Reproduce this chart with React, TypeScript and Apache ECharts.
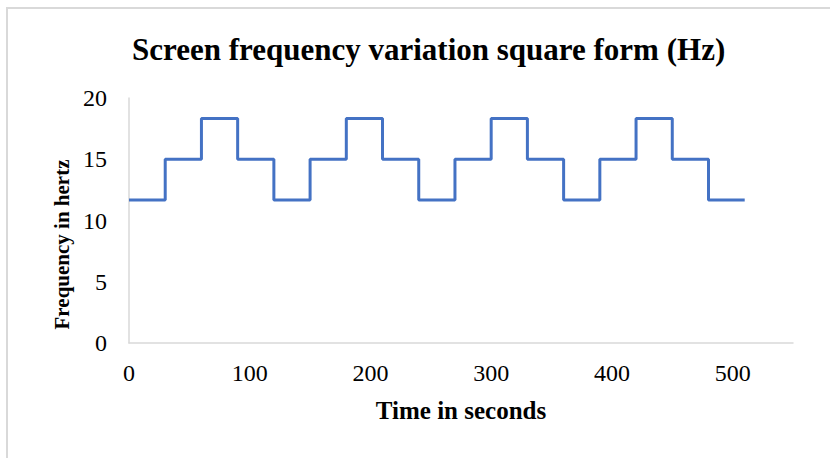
import React, { useEffect, useRef } from "react";
import * as echarts from "echarts";

// Step breakpoints (seconds) and the frequency held from each breakpoint until the next
const times = [0, 30, 60, 90, 120, 150, 180, 210, 240, 270, 300, 330, 360, 390, 420, 450, 480, 510];
const freqs = [11.67, 15, 18.33, 15, 11.67, 15, 18.33, 15, 11.67, 15, 18.33, 15, 11.67, 15, 18.33, 15, 11.67, 11.67];
const titleText = "Screen frequency variation square form (Hz)";
const xName = "Time in seconds";
const yName = "Frequency in hertz";

const FONT = "'Liberation Serif', 'Times New Roman', serif";

export default function App() {
  const ref = useRef<HTMLDivElement>(null);
  useEffect(() => {
    if (!ref.current) return;
    const chart = echarts.init(ref.current, undefined, { renderer: "svg" });
    const data = times.map((t, i) => [t, freqs[i]]);
    chart.setOption({
      animation: false,
      backgroundColor: "#ffffff",
      title: {
        text: titleText,
        left: 127,
        top: 29,
        textStyle: { fontFamily: FONT, fontSize: 31, fontWeight: "bold", color: "#000" },
      },
      graphic: [
        {
          type: "rect",
          shape: { x: 7, y: 8, width: 900, height: 600 },
          style: { fill: "none", stroke: "#d9d9d9", lineWidth: 2 },
          silent: true,
        },
      ],
      grid: { left: 129, right: 37, top: 98, bottom: 115, containLabel: false },
      xAxis: {
        type: "value",
        min: 0,
        max: 550,
        interval: 100,
        name: xName,
        nameLocation: "middle",
        nameGap: 55,
        nameTextStyle: { fontFamily: FONT, fontSize: 25, fontWeight: "bold", color: "#000" },
        axisLine: { show: true, lineStyle: { color: "#d9d9d9", width: 1.5 } },
        axisTick: { show: false },
        splitLine: { show: false },
        axisLabel: {
          fontFamily: FONT,
          fontSize: 24,
          color: "#000",
          margin: 18,
          formatter: (v: number) => (v % 100 === 0 ? String(v) : ""),
        },
      },
      yAxis: {
        type: "value",
        min: 0,
        max: 20,
        interval: 5,
        name: yName,
        nameLocation: "middle",
        nameGap: 56,
        nameTextStyle: {
          fontFamily: FONT,
          fontSize: 21,
          fontWeight: "bold",
          color: "#000",
          padding: [0, 48, 0, 0],
        },
        axisLine: { show: true, lineStyle: { color: "#d9d9d9", width: 1.5 } },
        axisTick: { show: false },
        splitLine: { show: false },
        axisLabel: { fontFamily: FONT, fontSize: 24, color: "#000", margin: 22 },
      },
      series: [
        {
          type: "line",
          step: "end",
          data,
          showSymbol: false,
          symbol: "none",
          lineStyle: { color: "#4472c4", width: 3 },
        },
      ],
    });
    return () => chart.dispose();
  }, []);
  return (
    <div
      ref={ref}
      style={{ position: "fixed", left: 0, top: 0, width: 830, height: 458, background: "#fff" }}
    />
  );
}
